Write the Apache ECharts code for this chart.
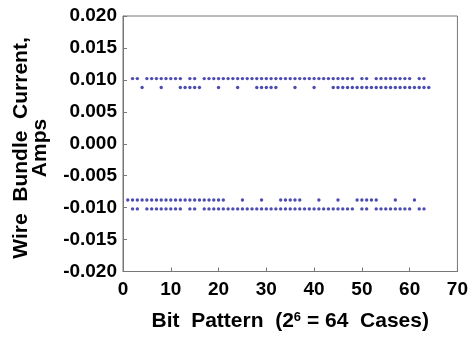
<!DOCTYPE html>
<html>
<head>
<meta charset="utf-8">
<script src="https://cdn.jsdelivr.net/npm/echarts@6/dist/echarts.min.js"></script>
<style>
html,body{margin:0;padding:0;background:#fff;}
#c{width:471px;height:337px;}
</style>
</head>
<body>
<div id="c"></div>
<script>
// Levels (Amps)
var levelHighPos = 0.0102;
var levelLowPos = 0.0088;
var levelLowNeg = -0.0088;
var levelHighNeg = -0.0102;

// Bit-pattern cases (x) at which each level appears
var xHighPos = [2,3,5,6,7,8,9,10,11,12,14,15,17,18,19,20,21,22,23,24,25,26,27,28,29,30,31,32,33,34,35,36,37,38,39,40,41,42,43,44,45,46,47,48,50,51,53,54,55,56,57,58,59,60,62,63];
var xLowPos = [4,8,12,13,14,15,16,20,24,28,29,30,31,32,36,40,44,45,46,47,48,49,50,51,52,53,54,55,56,57,58,59,60,61,62,63,64];
var xLowNeg = [1,2,3,4,5,6,7,8,9,10,11,12,13,14,15,16,17,18,19,20,21,25,29,33,34,35,36,37,41,45,49,50,51,52,53,57,61];
var xHighNeg = [2,3,5,6,7,8,9,10,11,12,14,15,17,18,19,20,21,22,23,24,25,26,27,28,29,30,31,32,33,34,35,36,37,38,39,40,41,42,43,44,45,46,47,48,50,51,53,54,55,56,57,58,59,60,62,63];

var xTicks = [0,10,20,30,40,50,60,70];
var yTicks = [-0.020,-0.015,-0.010,-0.005,0.000,0.005,0.010,0.015,0.020];

function pts(xs, v){ return xs.map(function(x){ return [x, v]; }); }

var dotColor = '#1e1e9e';
var font = '"Liberation Sans", Arial, sans-serif';

var chart = echarts.init(document.getElementById('c'), null, {renderer:'canvas'});
var mk = function(data){
  return {type:'scatter', data:data, symbol:'circle', symbolSize:3.4,
    itemStyle:{color:dotColor}, silent:true, animation:false};
};
chart.setOption({
  backgroundColor:'#fff',
  animation:false,
  grid:{left:123, right:12, top:16, bottom:58, show:true, borderColor:'#777', borderWidth:1, backgroundColor:'transparent'},
  xAxis:{
    type:'value', min:xTicks[0], max:xTicks[xTicks.length-1], interval:10,
    axisLine:{show:true, onZero:false, lineStyle:{color:'#777'}},
    axisTick:{show:true, inside:true, length:4, lineStyle:{color:'#777'}},
    splitLine:{show:false},
    axisLabel:{color:'#000', fontWeight:'bold', fontSize:19, fontFamily:font, margin:9},
    name:'{a|Bit  Pattern  (2}{s|6}{a| = 64  Cases)}',
    nameLocation:'middle', nameGap:39,
    nameTextStyle:{rich:{
      a:{color:'#000', fontWeight:'bold', fontSize:21, fontFamily:font},
      s:{color:'#000', fontWeight:'bold', fontSize:13, fontFamily:font, verticalAlign:'top', padding:[0,0,9,0]}
    }}
  },
  yAxis:{
    type:'value', min:yTicks[0], max:yTicks[yTicks.length-1], interval:0.005,
    axisLine:{show:true, onZero:false, lineStyle:{color:'#777'}},
    axisTick:{show:true, inside:true, length:4, lineStyle:{color:'#777'}},
    splitLine:{show:false},
    axisLabel:{color:'#000', fontWeight:'bold', fontSize:19, fontFamily:font, margin:6,
      formatter:function(v){ return v.toFixed(3); }}
  },
  graphic:[{
    type:'text', x:31, y:148, rotation:Math.PI/2,
    style:{text:'Wire  Bundle  Current,\nAmps', textAlign:'center', textVerticalAlign:'middle',
      font:'bold 21px ' + font, fill:'#000', lineHeight:19}
  }],
  series:[mk(pts(xHighPos, levelHighPos)), mk(pts(xLowPos, levelLowPos)),
          mk(pts(xLowNeg, levelLowNeg)), mk(pts(xHighNeg, levelHighNeg))]
});
</script>
</body>
</html>
